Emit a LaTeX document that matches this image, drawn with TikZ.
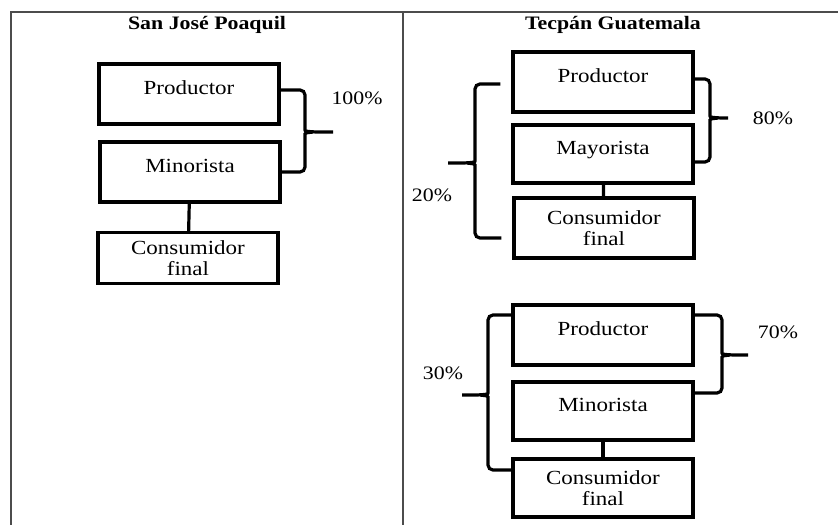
\documentclass[tikz,border=0pt]{standalone}
\usepackage{fontspec}
\setmainfont{Liberation Serif}[FakeStretch=1.15]
\usepackage{tikz}

\begin{document}
\begin{tikzpicture}[x=1pt, y=-1pt,
  marco/.style={draw=black!70, line width=1.4pt},
  titulo/.style={font=\fontsize{19}{22}\selectfont\bfseries},
  etapa/.style={draw, line width=3.2pt, minimum width=180pt, minimum height=60pt, text depth=12pt, font=\fontsize{20}{21}\selectfont},
  final/.style={draw, line width=3.2pt, minimum width=180pt, minimum height=58pt, align=center, font=\fontsize{20}{21}\selectfont},
  enlace/.style={line width=3.2pt},
  llave/.style={line width=3.2pt, rounded corners=5pt},
  pct/.style={font=\fontsize{19}{20}\selectfont},
]
  \useasboundingbox (0,0) rectangle (838,525);

  % Table frame
  \draw[marco] (838,12) -- (11,12) -- (11,525);
  \draw[marco] (403,12) -- (403,525);

  % Titles
  \node[titulo] (t1) at (207,25) {San José Poaquil};
  \node[titulo] (t2) at (613,25) {Tecpán Guatemala};

  % San Jose Poaquil
  \node[etapa] (p1) at (189,94) {Productor};
  \node[etapa] (m1) at (190,172) {Minorista};
  \node[final, minimum height=51pt] (c1) at (188,258) {Consumidor\\final};
  \draw[enlace] (m1) -- (c1);

  \draw[llave] ([yshift=4pt]p1.east) -| (305,125) .. controls (305,131) .. (313,132) -- (333,132);
  \draw[llave] (313,132) .. controls (305,133) .. (305,139) |- (m1.east);
  \node[pct] (n1) at (357,98) {100\%};

  % Tecpan, first channel
  \node[etapa] (p2) at (603,82) {Productor};
  \node[etapa, minimum height=58pt] (y2) at (603,154) {Mayorista};
  \node[final, minimum height=60pt] (c2) at (604,228) {Consumidor\\final};
  \draw[enlace] (y2) -- (c2);

  \draw[llave] ([yshift=3pt]p2.east) -| (710,111) .. controls (710,117) .. (718,118) -- (728,118);
  \draw[llave] (718,118) .. controls (710,119) .. (710,125) |- ([yshift=-8pt]y2.east);
  \node[pct] (n2) at (773,118) {80\%};

  \draw[llave] ([xshift=-11pt, yshift=-2pt]p2.west) -| (475,156) .. controls (475,162) .. (467,163) -- (448,163);
  \draw[llave] (467,163) .. controls (475,164) .. (475,170) |- ([xshift=-11pt, yshift=-10pt]c2.west);
  \node[pct] (n3) at (432,195) {20\%};

  % Tecpan, second channel
  \node[etapa] (p3) at (603,335) {Productor};
  \node[etapa, minimum height=58pt] (m3) at (603,411) {Minorista};
  \node[final] (c3) at (603,488) {Consumidor\\final};
  \draw[enlace] (m3) -- (c3);

  \draw[llave] ([yshift=20pt]p3.east) -| (722,348) .. controls (722,354) .. (730,355) -- (748,355);
  \draw[llave] (730,355) .. controls (722,356) .. (722,362) |- ([yshift=18pt]m3.east);
  \node[pct] (n4) at (778,332) {70\%};

  \draw[llave] ([yshift=20pt]p3.west) -| (488,388) .. controls (488,394) .. (480,395) -- (462,395);
  \draw[llave] (480,395) .. controls (488,396) .. (488,402) |- ([yshift=18pt]c3.west);
  \node[pct] (n5) at (443,373) {30\%};

\end{tikzpicture}
\end{document}
